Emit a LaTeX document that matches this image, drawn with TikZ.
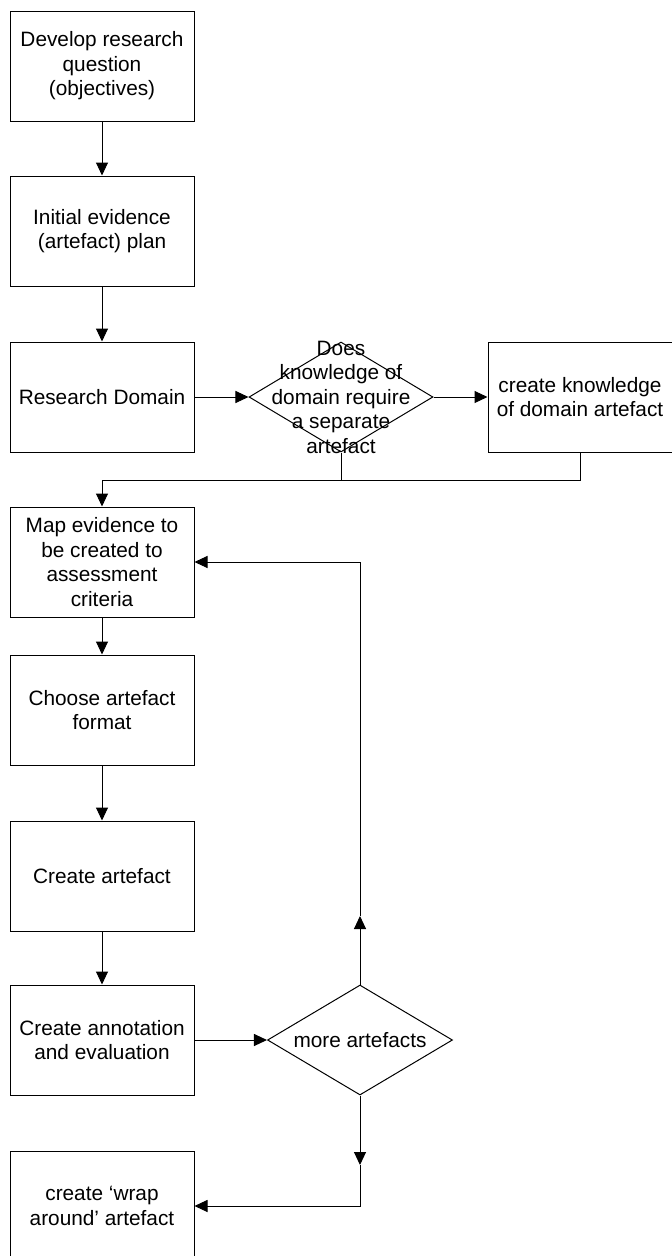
\documentclass[tikz,border=0pt]{standalone}
\usepackage{fontspec}
\setmainfont{Liberation Sans}
\usetikzlibrary{arrows.meta,shapes.geometric}
\tikzstyle{stepbox} = [draw, line width=1pt, minimum width=184pt, minimum height=110pt, inner sep=0pt, align=center, font=\fontsize{20.8}{24.5}\selectfont]
\tikzstyle{askbox} = [draw, diamond, line width=1pt, minimum width=184pt, minimum height=110pt, inner sep=0pt]
\tikzstyle{asktext} = [align=center, font=\fontsize{20.8}{24.5}\selectfont]
\tikzstyle{line} = [line width=1pt]
\tikzstyle{arrow} = [line width=1pt, -{Triangle[length=13pt,width=12pt]}]

\begin{document}
\begin{tikzpicture}[x=1pt,y=-1pt]
\useasboundingbox (0,0) rectangle (672,1256);

\node[stepbox] (develop) at (102,66) {Develop research\\question\\(objectives)};
\node[stepbox] (plan) at (102,231) {Initial evidence\\(artefact) plan};
\node[stepbox] (domain) at (102,397) {Research Domain};
\node[askbox] (ask) at (341,397) {};
\node[asktext] (asklabel) at (ask.center) {Does\\knowledge of\\domain require\\a separate\\artefact};
\node[stepbox] (know) at (580,397) {create knowledge\\of domain artefact};
\node[stepbox] (map) at (102,562) {Map evidence to\\be created to\\assessment\\criteria};
\node[stepbox] (format) at (102,710) {Choose artefact\\format};
\node[stepbox] (create) at (102,876) {Create artefact};
\node[stepbox] (annotate) at (102,1040) {Create annotation\\and evaluation};
\node[askbox, minimum width=185pt] (more) at (360,1040) {};
\node[asktext] (morelabel) at (more.center) {more artefacts};
\node[stepbox] (wrap) at (102,1206) {create `wrap\\around' artefact};

\coordinate (join) at (102,480);
\coordinate (upmid) at (360,916);
\coordinate (downmid) at (360,1165);

\draw[arrow] (develop) -- (plan);
\draw[arrow] (plan) -- (domain);
\draw[arrow] (domain) -- (ask);
\draw[arrow] (ask) -- (know);
\draw[line] (ask.south) -- (ask.south |- join);
\draw[arrow] (know.south) |- (join) -- (map.north);
\draw[arrow] (map) -- (format);
\draw[arrow] (format) -- (create);
\draw[arrow] (create) -- (annotate);
\draw[arrow] (annotate) -- (more);

% loop back for the next artefact
\draw[arrow] (more.north) -- (upmid);
\draw[arrow] (upmid) |- (map.east);

% no more artefacts
\draw[arrow] (more.south) -- (downmid);
\draw[arrow] (downmid) |- (wrap.east);
\end{tikzpicture}
\end{document}
